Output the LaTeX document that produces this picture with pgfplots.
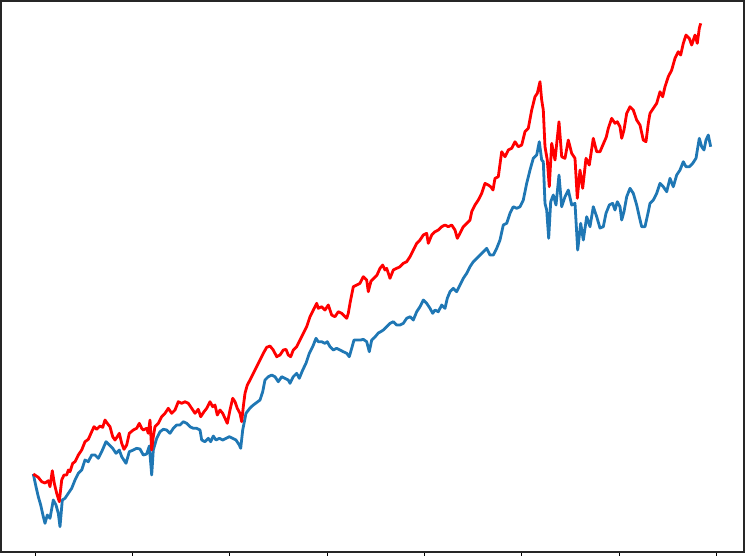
\documentclass[border=0pt]{standalone}
\usepackage{pgfplots}
\usepackage{pgfplotstable}
\pgfplotsset{compat=1.18}
\definecolor{mplblue}{RGB}{31,119,180}

% values (px = horizontal pixel, py = vertical pixel)
\pgfplotstableread{
px py
33.3 474
38.3 477.3
41.7 481.7
45 483
48.3 480.7
50 486.7
52.3 470.7
54.3 483.3
56.7 493.3
59.3 501.7
61.7 480
64 475
66.7 475
68.3 470
70 471.7
72.7 463.3
75 461.7
78.3 455
81.7 450
85 441.7
88.3 439.3
91.7 431.7
94 426.7
96.7 429.3
100 426
102.7 427.3
105 420
107.3 423.3
110 426.7
112.7 436.7
115 440
117.3 436.7
119.3 433.3
121.7 443.3
124 449.3
126.7 445
129.3 433.3
133.3 430
136.7 428.3
139.3 423.3
141.7 428.3
143.3 430
146.7 428.3
148.3 433.3
150 420
151.7 450
153.3 436.7
155 426.7
158.3 423.3
161.7 416.7
165 413.3
168.3 408.3
171.7 413.3
175 410
178.3 401.7
181.7 403.3
185 401.7
188.3 403.3
191.7 408.3
195 413.3
198.3 409.3
200.7 416.7
204 411.7
206.7 408.3
210 401.7
212.7 406.7
215 405
217.3 415
220 410
222.7 413.3
225 418.3
227.3 423.3
230 410
232.7 398.3
235 401.7
237.3 408.3
240 413.3
241.7 421.7
243.3 406.7
245 393.3
247.3 385
250 380
253.3 373.3
256.7 366.7
260 360
263.3 353.3
266.7 347.3
270 346
273.3 350
276.7 356.7
280 355
283.3 350
286 349.3
288.3 355
290.7 356.7
293.3 350
296.7 346.7
300 340
303.3 333.3
306.7 326.7
310 316.7
313.3 310
316.7 303.3
318.3 308.3
321.7 306.7
325 310
328.3 305
331.7 315
335 316.7
338.3 311.7
341.7 313.3
346.7 318.3
348.3 313.3
350 303.3
353.3 286.7
356.7 285
360 283.3
363.3 276.7
366.7 280
368.3 291.7
371 281
374 278
377 275
380 268.3
382.7 265
385 270
386.7 268.3
390 278.3
393.3 270
396.7 268.3
400 266.7
403.3 263.3
406.7 261.7
410 256.7
413.3 250
416.7 243.3
420 240
423.3 235
426.7 233.3
428.3 243.3
431.7 235
435 231.7
438.3 230
441.7 226.7
445 225
448.3 226.7
451.7 225
455 230
457.3 238.3
460 233.3
463.3 226.7
466.7 223.3
470 220
471.7 211.7
475 205
478.3 200
481.7 193.3
485 183.3
488.3 185
491 187
493 190
495 178.3
498.3 176.7
501.7 151.7
505 156.7
508.3 150
511.7 148.3
515 141.7
518.3 146.7
521.7 145
525 131.7
528.3 128.3
531.7 110
535 96.7
537.3 93.3
540 81.7
541.7 100
543.3 110
545 146.7
547.3 160
549.3 186.7
551.7 143.3
555 160
559 121.7
561.7 156.7
565 158.3
568.3 140
571.7 153.3
575 158.3
577.3 198.3
580 170
582.7 188.3
586 158.3
589.3 165
593.3 138.3
596.7 151.7
600 151.7
603.3 144
606.3 137
608.3 128.3
611.7 118.3
615 123.3
617.3 121.7
620 126.7
621.7 138.3
624 130
626.7 113.3
630 106.7
633.3 110
636.7 120
640 125
643.3 140
646 141.7
648.3 123.3
650 113.3
653.3 108.3
656.7 103.3
660 91.7
662.7 96.7
665 86.7
668.3 76.7
671.7 70
675 58.3
678.3 51.7
680.7 55
683.3 43.3
686 35
689.3 38.3
691.7 45
695 35
697.3 43.3
699.3 28.3
700.7 23.3
}\redtab

\pgfplotstableread{
px py
33.3 474
36 486.7
38.3 496.7
40.7 505
43.3 516.7
45 523.3
47.3 515
50 518.3
53.3 500
56 505
58.3 513.3
60 526.7
62.3 500
65 498.3
68.3 493.3
71.7 488.3
75 480
78.3 473.3
81.7 470
85 460
88.3 461.7
91.7 455
95 455
98.3 458.3
101.7 451.7
106 441.7
109.3 445
112.7 448.3
116 453.3
119.3 450
121.7 456.7
126 463.3
129.3 451.7
133.3 450
136.7 448.3
140 449
143.3 455
146.7 454
149.3 446
151.7 475
153.3 450
156.7 438.3
160 431.7
163.3 429.3
166.7 430
170 433.3
173.3 428.3
176.7 425
180 425
183.3 421.7
186.7 423.3
190 426.7
193.3 428.3
196.7 428.3
200 430
201.7 440
205 441.7
208.3 438.3
210.7 441.7
213.3 436
216 440
219.3 438.3
222.7 440
226 438.3
229.3 436.7
232.7 438.3
236 440
239.3 445
240.7 448.3
242.7 430
246 413.3
250 408
253.3 405
256.7 402.5
260 400
262.7 391.7
265 380
268.3 376.7
271.7 375
275 376.7
278.3 381.7
281.7 376.7
285 378.3
288.3 380
290 383.3
293.3 376.7
296.7 373.3
299.3 378.3
302.7 370
306 363.3
309.3 353.3
312.7 346.7
316 338.3
318.3 341.7
321.7 341.7
325 343.3
327.3 341.7
330 346.7
333.3 350
336.7 348.3
340 350
343.3 351.7
346.7 353.3
349.3 356.7
351.7 348.3
354 340
357.3 340
360.7 340
363.3 339.3
366.7 341.7
369.3 351.7
371.7 340
375 337
378.3 333
381 331.5
383.3 330
386.7 326.7
390 323.3
393.3 321.7
396.7 325
400 325
403.3 323.3
406.7 318.3
410 316.7
413.3 320
416.7 311.7
420 306.7
423.3 300
426.7 303.3
430 308.3
432.7 313.3
435 310
438.3 311.7
441.7 305
445 308.3
447.3 298.3
450 291.7
453.3 288.3
456.7 291.7
460 285
463.3 278.3
466.7 273.3
470 266.7
473.3 261.7
476.7 258.3
480 255
483.3 251.7
486.7 248.3
490 255
493.3 255
496.7 248.3
500 240
503.3 225
506.7 223.3
510 213.3
513.3 206.7
516.7 208.3
520 206.7
523.3 200
526.7 183.3
530 170
533.3 158.3
536.7 155
539.3 141.7
541.7 160
543.3 161.7
545 203.3
546.7 210
548.7 238.3
550.7 201.7
553.3 195
556 205
559 175
561.7 206.7
565 196.7
568.3 190
571.7 205
575 203.3
577.7 250
580.7 223.3
583.3 240
586.7 216.7
590 226.7
593.3 206.7
596.7 216.7
600 228
603.3 226.7
606 213.3
609.3 205
612.7 203.3
615 210
617.3 201.7
620 206.7
621.7 220
624 211.7
626.7 196.7
630 188.3
633.3 193.3
636.7 205
639.3 216.7
641.7 226.7
645 226.7
648.3 211.7
650 203.3
653.3 200
656.7 193.3
660 183.3
663.3 186.7
666.7 191.7
670 178.3
673.3 186.7
676.7 175
680 170
683.3 161.7
686 166.7
689.3 166.7
692.7 163.3
696 158.3
699.3 138.3
701.7 146.7
704 150
706 140
708.3 135
710.7 146.7
}\bluetab

\begin{document}
\begin{tikzpicture}
\begin{axis}[
  at={(1bp,4bp)}, anchor=south west,
  scale only axis, width=743bp, height=551bp,
  xmin=-87.3, xmax=1820.4, ymin=0.686, ymax=2.963,
  xtick={0,250,500,750,1000,1250,1500,1750},
  ytick={1,1.5,2,2.5},
  xticklabels={}, yticklabels={},
  tick pos=left,
  tick align=outside, major tick length=4bp,
  tick style={black, line width=1bp},
  axis line style={black!85, line width=1.2bp},
  every axis plot/.append style={no markers, line width=2.8bp, line join=round},
]
\addplot[color=mplblue] table[x expr={(\thisrow{px}-35)*2.5675}, y expr={1+(476-\thisrow{py})/242}] {\bluetab};
\addplot[color=red] table[x expr={(\thisrow{px}-35)*2.5675}, y expr={1+(476-\thisrow{py})/242}] {\redtab};
\end{axis}
\pgfresetboundingbox
\path[use as bounding box] (0,0) rectangle (748bp,556bp);
\end{tikzpicture}
\end{document}
